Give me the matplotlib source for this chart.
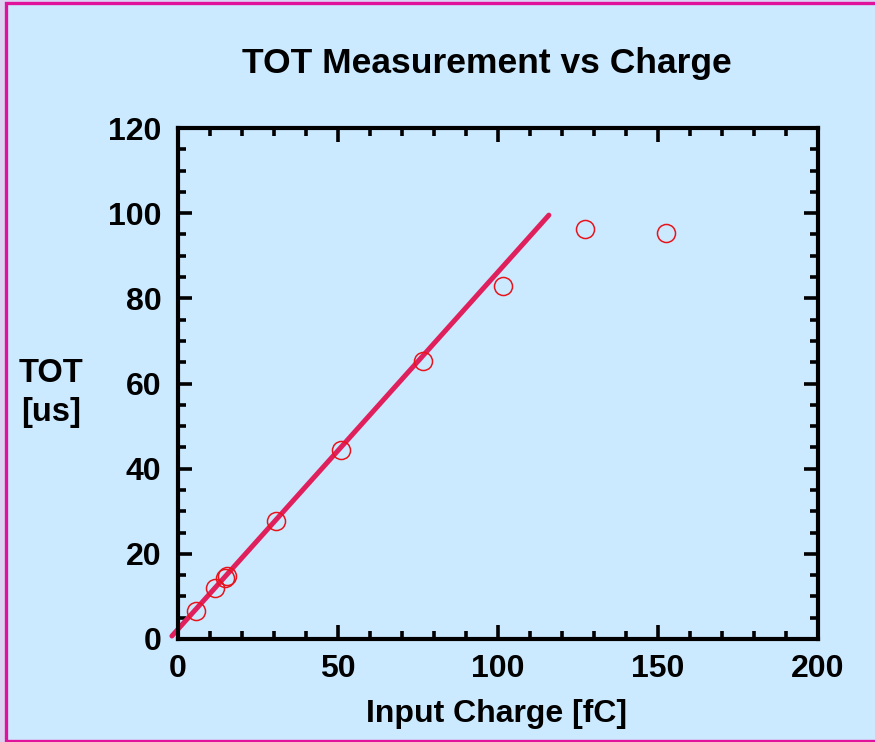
import matplotlib.pyplot as plt
import numpy as np
from matplotlib.patches import Rectangle
from matplotlib.ticker import MultipleLocator

plt.rcParams["font.family"] = ["Liberation Sans", "DejaVu Sans"]
plt.rcParams["font.weight"] = "bold"

BG = "#cceaff"

# measured points
charge_fc = [5.6, 11.6, 14.6, 15.4, 30.6, 50.9, 76.6, 101.6, 127.2, 152.5]
tot_us = [6.6, 12.0, 14.3, 14.9, 27.7, 44.4, 65.3, 82.9, 96.2, 95.3]

# linear fit over the unsaturated range
fit_slope = 0.839
fit_intercept = 2.3
fit_range = [-1.9, 115.9]

fig = plt.figure(figsize=(8.75, 7.42), dpi=100)
fig.patch.set_facecolor("#dcd2f2")
fig.patches.append(Rectangle((5.5 / 875, 1.5 / 742), 1.2, 1 - 4 / 742,
                             transform=fig.transFigure, facecolor=BG,
                             edgecolor="#e0129c", linewidth=2.4, zorder=-1))

ax = fig.add_axes([178 / 875, 1 - 639 / 742, 640 / 875, 511 / 742])
ax.set_facecolor(BG)

fit_x = np.array(fit_range)
ax.plot(fit_x, fit_slope * fit_x + fit_intercept, color="#e0205c",
        linewidth=3.6, solid_capstyle="round", clip_on=False, zorder=2)
ax.plot(charge_fc, tot_us, linestyle="none", marker="o", markersize=13,
        markerfacecolor="none", markeredgecolor="#e8141c",
        markeredgewidth=1.1, zorder=3)

ax.set_xlim(0, 200)
ax.set_ylim(0, 120)
ax.xaxis.set_major_locator(MultipleLocator(50))
ax.xaxis.set_minor_locator(MultipleLocator(10))
ax.yaxis.set_major_locator(MultipleLocator(20))
ax.yaxis.set_minor_locator(MultipleLocator(5))

for spine in ax.spines.values():
    spine.set_linewidth(3.0)
ax.tick_params(which="both", direction="in", top=True, right=True, width=2.6)
ax.tick_params(which="major", length=10, labelsize=23)
ax.tick_params(axis="x", which="major", pad=11)
ax.tick_params(axis="y", which="major", pad=12)
ax.tick_params(which="minor", length=5.5)
for lbl in ax.get_xticklabels() + ax.get_yticklabels():
    lbl.set_fontweight("bold")

fig.text(487 / 875, 1 - 63 / 742, "TOT Measurement vs Charge",
         ha="center", va="center", fontsize=25.5, fontweight="bold")
fig.text(497 / 875, 1 - 714 / 742, "Input Charge [fC]",
         ha="center", va="center", fontsize=23, fontweight="bold")
fig.text(51 / 875, 1 - 393 / 742, "TOT\n[us]", ha="center", va="center",
         fontsize=23.5, fontweight="bold", linespacing=1.3)

fig.savefig("out.png", dpi=100, facecolor=fig.get_facecolor())
